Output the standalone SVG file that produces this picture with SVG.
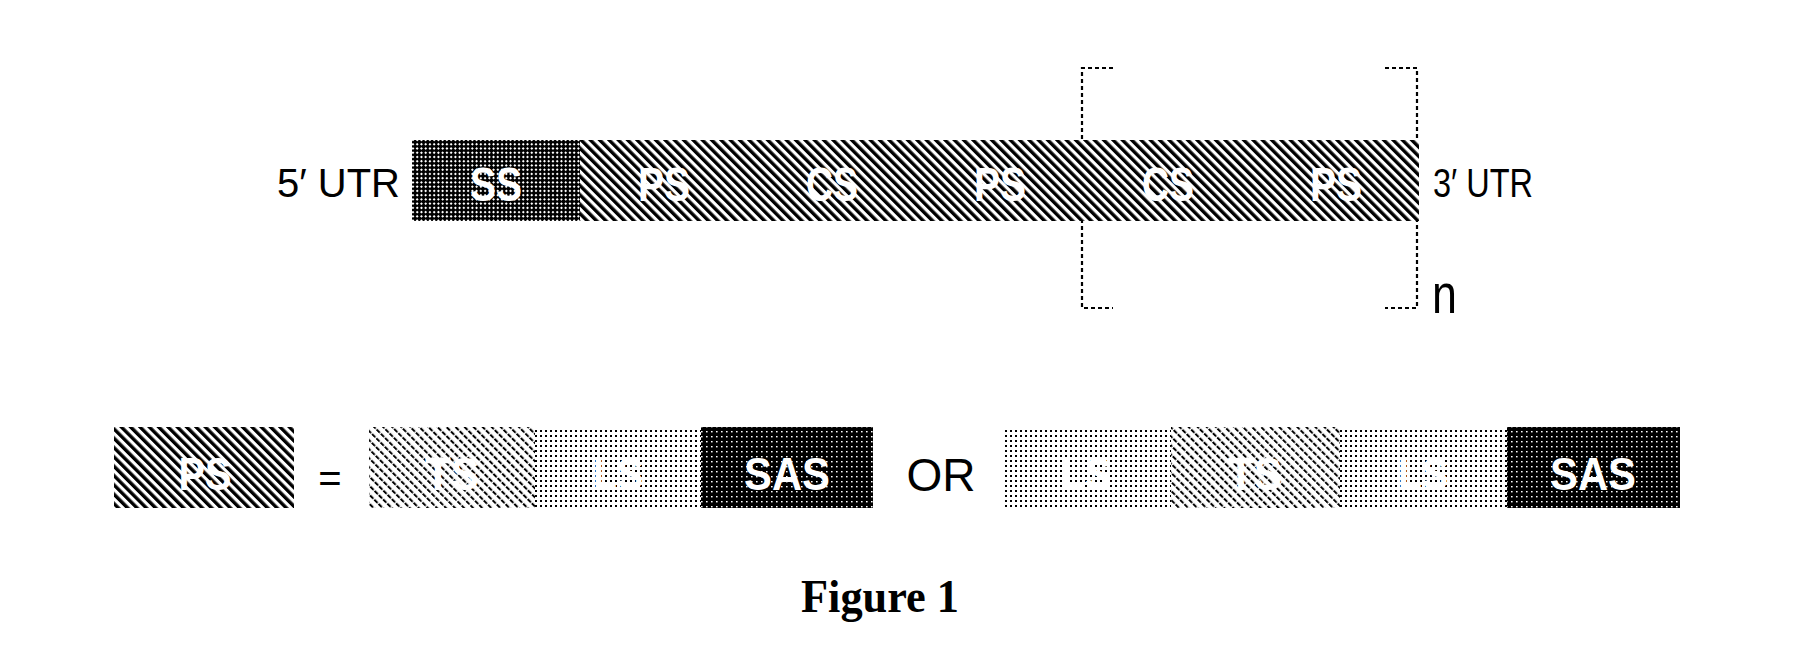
<svg xmlns="http://www.w3.org/2000/svg" width="1796" height="670" viewBox="0 0 1796 670">
<style>
.lbl{font-family:"Liberation Sans",Arial,sans-serif;fill:#000;}
.seg{font-family:"Liberation Sans",Arial,sans-serif;font-weight:bold;fill:#fff;text-anchor:middle;}
.br{fill:none;stroke:#000;stroke-width:2.2;stroke-dasharray:4 3;}
.cap{font-family:"Liberation Serif","Times New Roman",serif;font-weight:bold;fill:#000;text-anchor:middle;}
</style>
<defs>
<pattern id="pDark" width="6" height="6" patternUnits="userSpaceOnUse" patternTransform="rotate(-45)">
<rect width="6" height="6" fill="#000"/>
<rect x="0" y="0" width="2" height="2" fill="#fff"/>
<rect x="3" y="3" width="2" height="2" fill="#fff"/>
</pattern>
<pattern id="pStripe" width="6.6" height="10" patternUnits="userSpaceOnUse" patternTransform="rotate(-45)">
<rect width="6.6" height="10" fill="#fff"/>
<rect x="0" y="0" width="3.4" height="10" fill="#000"/>
</pattern>
<pattern id="pTS" width="6.4" height="6" patternUnits="userSpaceOnUse" patternTransform="rotate(-45)">
<rect width="6.4" height="6" fill="#fff"/>
<rect x="0" y="0" width="2" height="4.6" fill="#000"/>
</pattern>
<pattern id="pLS" width="5" height="5" patternUnits="userSpaceOnUse">
<rect width="5" height="5" fill="#fff"/>
<rect x="0" y="0" width="2" height="2" fill="#000"/>
</pattern>
<pattern id="pSAS" width="5" height="5" patternUnits="userSpaceOnUse">
<rect width="5" height="5" fill="#000"/>
<rect x="1" y="1" width="1.6" height="1.4" fill="#fff"/>
</pattern>
</defs>
<rect width="1796" height="670" fill="#fff"/>

<g id="brackets">
<path class="br" d="M1113,68 H1082 V308 H1113"/>
<path class="br" d="M1385,68 H1417 V308 H1385"/>
</g>

<g id="utr5"><text class="lbl" x="277" y="197" font-size="40" textLength="123" lengthAdjust="spacingAndGlyphs">5′ UTR</text></g>

<g id="seg-SS"><rect x="412" y="140" width="168" height="81" fill="url(#pDark)"/><text class="seg" x="496" y="201" font-size="48" textLength="52" lengthAdjust="spacingAndGlyphs">SS</text></g>
<g id="seg-PS1"><rect x="580" y="140" width="168" height="81" fill="url(#pStripe)"/><text class="seg" x="664" y="201" font-size="48" textLength="52" lengthAdjust="spacingAndGlyphs">PS</text></g>
<g id="seg-CS1"><rect x="748" y="140" width="168" height="81" fill="url(#pStripe)"/><text class="seg" x="832" y="201" font-size="48" textLength="52" lengthAdjust="spacingAndGlyphs">CS</text></g>
<g id="seg-PS2"><rect x="916" y="140" width="168" height="81" fill="url(#pStripe)"/><text class="seg" x="1000" y="201" font-size="48" textLength="52" lengthAdjust="spacingAndGlyphs">PS</text></g>
<g id="seg-CS2"><rect x="1084" y="140" width="168" height="81" fill="url(#pStripe)"/><text class="seg" x="1168" y="201" font-size="48" textLength="52" lengthAdjust="spacingAndGlyphs">CS</text></g>
<g id="seg-PS3"><rect x="1252" y="140" width="167" height="81" fill="url(#pStripe)"/><text class="seg" x="1336" y="201" font-size="48" textLength="52" lengthAdjust="spacingAndGlyphs">PS</text></g>

<g id="utr3"><text class="lbl" x="1433" y="197" font-size="40" textLength="100" lengthAdjust="spacingAndGlyphs">3′ UTR</text></g>
<g id="n-label"><text class="lbl" x="0" y="0" font-size="56" transform="translate(1432,313) scale(0.8,1)">n</text></g>

<g id="ps-def"><rect x="114" y="427" width="180" height="81" fill="url(#pStripe)"/><text class="seg" x="205" y="490" font-size="46" textLength="53" lengthAdjust="spacingAndGlyphs">PS</text></g>
<g id="equals"><text class="lbl" x="330" y="492" font-size="40" text-anchor="middle">=</text></g>

<g id="opt1">
<rect x="369" y="427" width="166" height="81" fill="url(#pTS)"/>
<text class="seg" x="452" y="490" font-size="46" textLength="54" lengthAdjust="spacingAndGlyphs">TS</text>
<rect x="535" y="427" width="166" height="81" fill="url(#pLS)"/>
<text class="seg" x="618" y="490" font-size="46" textLength="50" lengthAdjust="spacingAndGlyphs">LS</text>
<rect x="701" y="427" width="172" height="81" fill="url(#pSAS)"/>
<text class="seg" x="787" y="490" font-size="46" textLength="86" lengthAdjust="spacingAndGlyphs">SAS</text>
</g>

<g id="or"><text class="lbl" x="941" y="491" font-size="46" text-anchor="middle">OR</text></g>

<g id="opt2">
<rect x="1002" y="427" width="169" height="81" fill="url(#pLS)"/>
<text class="seg" x="1086" y="490" font-size="46" textLength="50" lengthAdjust="spacingAndGlyphs">LS</text>
<rect x="1171" y="427" width="169" height="81" fill="url(#pTS)"/>
<text class="seg" x="1255" y="490" font-size="46" textLength="54" lengthAdjust="spacingAndGlyphs">TS</text>
<rect x="1340" y="427" width="167" height="81" fill="url(#pLS)"/>
<text class="seg" x="1423" y="490" font-size="46" textLength="50" lengthAdjust="spacingAndGlyphs">LS</text>
<rect x="1507" y="427" width="173" height="81" fill="url(#pSAS)"/>
<text class="seg" x="1593" y="490" font-size="46" textLength="86" lengthAdjust="spacingAndGlyphs">SAS</text>
</g>

<g id="caption"><text class="cap" x="880" y="612" font-size="46" textLength="158" lengthAdjust="spacingAndGlyphs">Figure 1</text></g>
</svg>
